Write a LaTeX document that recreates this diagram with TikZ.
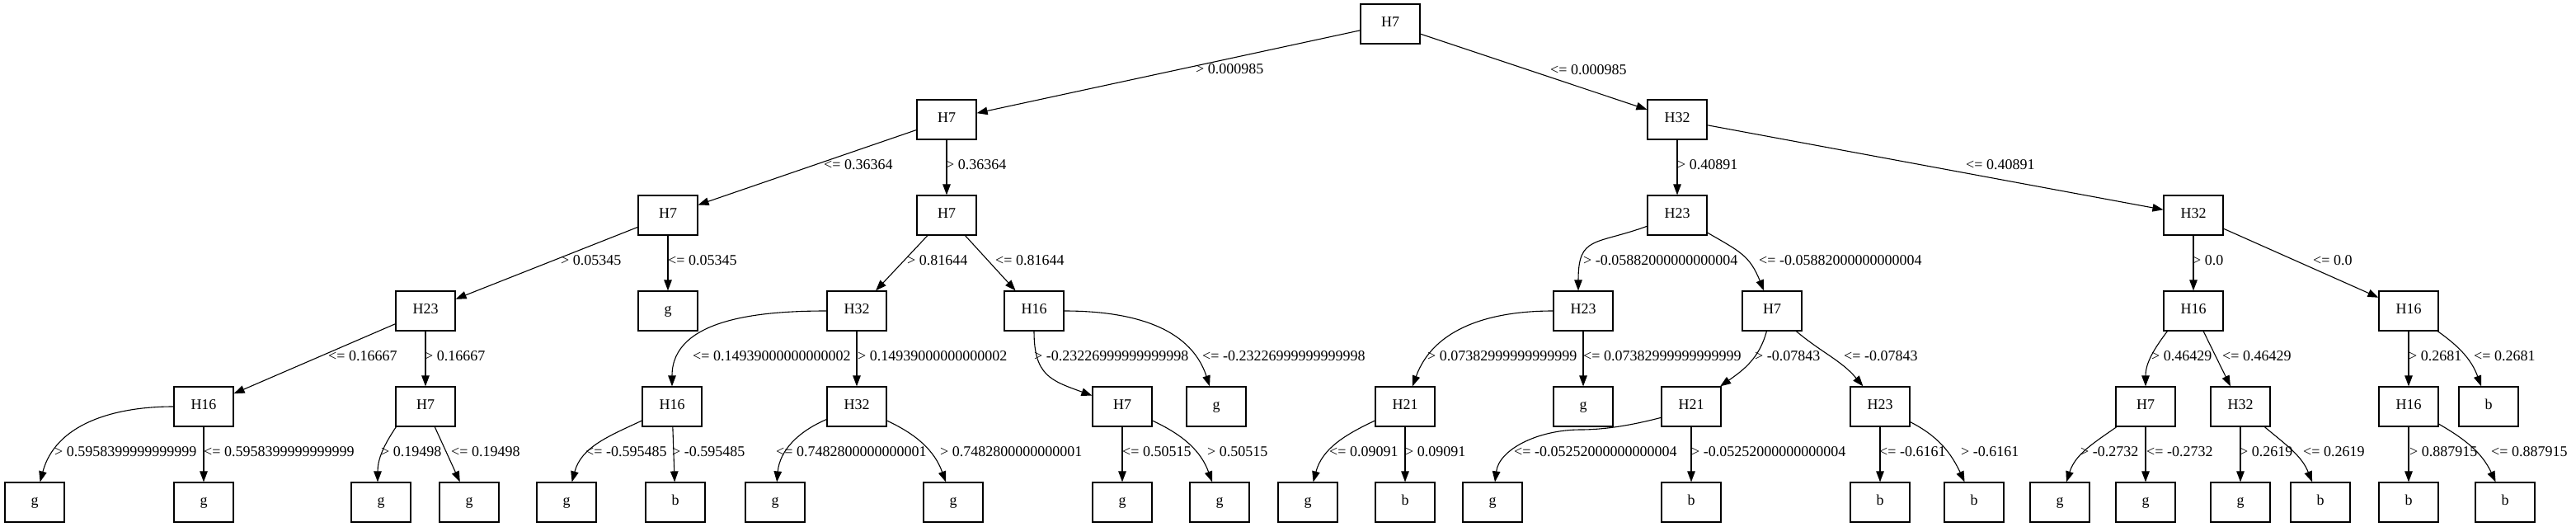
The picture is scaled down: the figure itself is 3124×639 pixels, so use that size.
\documentclass[tikz,border=0pt]{standalone}
\usepackage{fontspec}
\setmainfont{Liberation Serif}
\usetikzlibrary{arrows.meta}
\begin{document}
\begin{tikzpicture}[x=1pt,y=1pt,
  every node/.style={font=\fontsize{18pt}{22pt}\selectfont},
  tbox/.style={draw, line width=1.2pt, minimum width=72pt, minimum height=48pt, inner sep=0pt, text height=0.68em, text depth=0pt},
  lbl/.style={anchor=west, inner sep=0pt, text height=0.68em, text depth=0pt},
  conn/.style={line width=1.1pt, -{Triangle[length=13pt,width=9.5pt]}}]
\useasboundingbox (0,0) rectangle (3124,-639);
% row 0
\node[tbox] (r) at (1686,-29) {H7};
% row 1
\node[tbox] (a1) at (1148,-145) {H7};
\node[tbox] (a2) at (2034,-145) {H32};
% row 2
\node[tbox] (b1) at (810,-261) {H7};
\node[tbox] (b2) at (1148,-261) {H7};
\node[tbox] (b3) at (2034,-261) {H23};
\node[tbox] (b4) at (2660,-261) {H32};
% row 3
\node[tbox] (c1) at (516,-377) {H23};
\node[tbox] (c2) at (810,-377) {g};
\node[tbox] (c3) at (1039,-377) {H32};
\node[tbox] (c4) at (1254,-377) {H16};
\node[tbox] (c5) at (1920,-377) {H23};
\node[tbox] (c6) at (2149,-377) {H7};
\node[tbox] (c7) at (2660,-377) {H16};
\node[tbox] (c8) at (2921,-377) {H16};
% row 4
\node[tbox] (d1) at (247,-493) {H16};
\node[tbox] (d2) at (516,-493) {H7};
\node[tbox] (d3) at (815,-493) {H16};
\node[tbox] (d4) at (1039,-493) {H32};
\node[tbox] (d5) at (1361,-493) {H7};
\node[tbox] (d6) at (1475,-493) {g};
\node[tbox] (d7) at (1704,-493) {H21};
\node[tbox] (d8) at (1920,-493) {g};
\node[tbox] (d9) at (2051,-493) {H21};
\node[tbox] (d10) at (2280,-493) {H23};
\node[tbox] (d11) at (2602,-493) {H7};
\node[tbox] (d12) at (2717,-493) {H32};
\node[tbox] (d13) at (2921,-493) {H16};
\node[tbox] (d14) at (3018,-493) {b};
% row 5
\node[tbox] (e1) at (42,-609) {g};
\node[tbox] (e2) at (247,-609) {g};
\node[tbox] (e3) at (462,-609) {g};
\node[tbox] (e4) at (569,-609) {g};
\node[tbox] (e5) at (687,-609) {g};
\node[tbox] (e6) at (819,-609) {b};
\node[tbox] (e7) at (940,-609) {g};
\node[tbox] (e8) at (1156,-609) {g};
\node[tbox] (e9) at (1361,-609) {g};
\node[tbox] (e10) at (1479,-609) {g};
\node[tbox] (e11) at (1586,-609) {g};
\node[tbox] (e12) at (1704,-609) {b};
\node[tbox] (e13) at (1810,-609) {g};
\node[tbox] (e14) at (2051,-609) {b};
\node[tbox] (e15) at (2280,-609) {b};
\node[tbox] (e16) at (2394,-609) {b};
\node[tbox] (e17) at (2498,-609) {g};
\node[tbox] (e18) at (2602,-609) {g};
\node[tbox] (e19) at (2717,-609) {g};
\node[tbox] (e20) at (2814,-609) {b};
\node[tbox] (e21) at (2921,-609) {b};
\node[tbox] (e22) at (3038,-609) {b};
% straight connectors
\draw[conn] (r) -- (a1);
\draw[conn] (r) -- (a2);
\draw[conn] (a1) -- (b1);
\draw[conn] (a1) -- (b2);
\draw[conn] (a2) -- (b3);
\draw[conn] (a2) -- (b4);
\draw[conn] (b1) -- (c1);
\draw[conn] (b1) -- (c2);
\draw[conn] (b2) -- (c3);
\draw[conn] (b2) -- (c4);
\draw[conn] (b4) -- (c7);
\draw[conn] (b4) -- (c8);
\draw[conn] (c1) -- (d1);
\draw[conn] (c1) -- (d2);
\draw[conn] (c3) -- (d4);
\draw[conn] (c5) -- (d8);
\draw[conn] (c7) -- (d12);
\draw[conn] (c8) -- (d13);
\draw[conn] (d1) -- (e2);
\draw[conn] (d2) -- (e4);
\draw[conn] (d3) -- (e6);
\draw[conn] (d5) -- (e9);
\draw[conn] (d7) -- (e12);
\draw[conn] (d9) -- (e14);
\draw[conn] (d10) -- (e15);
\draw[conn] (d11) -- (e18);
\draw[conn] (d12) -- (e19);
\draw[conn] (d13) -- (e21);
% curved connectors
\draw[conn] (b3) to[out=200,in=90,looseness=1.5] ([xshift=-6pt]c5.north);
\draw[conn] (b3) to[out=-30,in=112,looseness=1.2] (c6);
\draw[conn] (c3) to[out=180,in=90] (d3);
\draw[conn] (c4) to[out=-90,in=160,looseness=1.3] (d5);
\draw[conn] (c4) to[out=0,in=108] (d6);
\draw[conn] (c5) to[out=180,in=70] (d7);
\draw[conn] (c6) to[out=-105,in=35] (d9);
\draw[conn] (c6) to[out=-40,in=130] (d10);
\draw[conn] ([xshift=5pt]c7.south west) to[out=233,in=90] (d11);
\draw[conn] (c8) to[out=-35,in=110] (d14);
\draw[conn] (d1) to[out=180,in=75] (e1);
\draw[conn] ([xshift=1pt]d2.south west) to[out=236,in=90] ([xshift=-4pt]e3.north);
\draw[conn] (d3) to[out=205,in=75] (e5);
\draw[conn] (d4) to[out=203,in=85] (e7);
\draw[conn] (d4) to[out=-25,in=110] (e8);
\draw[conn] (d5) to[out=-25,in=110] (e10);
\draw[conn] (d7) to[out=205,in=75] (e11);
\draw[conn] (d9.200) .. controls (1985,-514) and (1950,-521) .. (1917,-521) .. controls (1865,-521) and (1818,-545) .. ([xshift=3pt]e13.north);
\draw[conn] (d10) to[out=-27,in=115] (e16);
\draw[conn] (d11) to[out=215,in=72] (e17);
\draw[conn] (d12) to[out=-40,in=112] (e20);
\draw[conn] (d13) to[out=-30,in=115] (e22);
% labels
\node[lbl] (l1) at (1450,-86) {> 0.000985};
\node[lbl] (l2) at (1880,-87) {<= 0.000985};
\node[lbl] (l3) at (999,-202) {<= 0.36364};
\node[lbl] (l4) at (1147,-202) {> 0.36364};
\node[lbl] (l5) at (2034,-202) {> 0.40891};
\node[lbl] (l6) at (2384,-202) {<= 0.40891};
\node[lbl] (l7) at (680,-318) {> 0.05345};
\node[lbl] (l8) at (810,-318) {<= 0.05345};
\node[lbl] (l9) at (1100,-318) {> 0.81644};
\node[lbl] (l10) at (1207,-318) {<= 0.81644};
\node[lbl] (l11) at (1920,-318) {> -0.05882000000000004};
\node[lbl] (l12) at (2133,-318) {<= -0.05882000000000004};
\node[lbl] (l13) at (2659,-318) {> 0.0};
\node[lbl] (l14) at (2805,-318) {<= 0.0};
\node[lbl] (l15) at (398,-434) {<= 0.16667};
\node[lbl] (l16) at (515,-434) {> 0.16667};
\node[lbl] (l17) at (840,-434) {<= 0.14939000000000002};
\node[lbl] (l18) at (1040,-434) {> 0.14939000000000002};
\node[lbl] (l19) at (1254,-434) {> -0.23226999999999998};
\node[lbl] (l20) at (1458,-434) {<= -0.23226999999999998};
\node[lbl] (l21) at (1731,-434) {> 0.07382999999999999};
\node[lbl] (l22) at (1920,-434) {<= 0.07382999999999999};
\node[lbl] (l23) at (2128,-434) {> -0.07843};
\node[lbl] (l24) at (2236,-434) {<= -0.07843};
\node[lbl] (l25) at (2609,-434) {> 0.46429};
\node[lbl] (l26) at (2695,-434) {<= 0.46429};
\node[lbl] (l27) at (2921,-434) {> 0.2681};
\node[lbl] (l28) at (3000,-434) {<= 0.2681};
\node[lbl] (l29) at (66,-550) {> 0.5958399999999999};
\node[lbl] (l30) at (247,-550) {<= 0.5958399999999999};
\node[lbl] (l31) at (462,-550) {> 0.19498};
\node[lbl] (l32) at (547,-550) {<= 0.19498};
\node[lbl] (l33) at (710,-550) {<= -0.595485};
\node[lbl] (l34) at (815,-550) {> -0.595485};
\node[lbl] (l35) at (941,-550) {<= 0.7482800000000001};
\node[lbl] (l36) at (1140,-550) {> 0.7482800000000001};
\node[lbl] (l37) at (1361,-550) {<= 0.50515};
\node[lbl] (l38) at (1464,-550) {> 0.50515};
\node[lbl] (l39) at (1612,-550) {<= 0.09091};
\node[lbl] (l40) at (1704,-550) {> 0.09091};
\node[lbl] (l41) at (1836,-550) {<= -0.05252000000000004};
\node[lbl] (l42) at (2051,-550) {> -0.05252000000000004};
\node[lbl] (l43) at (2279,-550) {<= -0.6161};
\node[lbl] (l44) at (2378,-550) {> -0.6161};
\node[lbl] (l45) at (2523,-550) {> -0.2732};
\node[lbl] (l46) at (2603,-550) {<= -0.2732};
\node[lbl] (l47) at (2716,-550) {> 0.2619};
\node[lbl] (l48) at (2793,-550) {<= 0.2619};
\node[lbl] (l49) at (2922,-550) {> 0.887915};
\node[lbl] (l50) at (3021,-550) {<= 0.887915};
\end{tikzpicture}
\end{document}
